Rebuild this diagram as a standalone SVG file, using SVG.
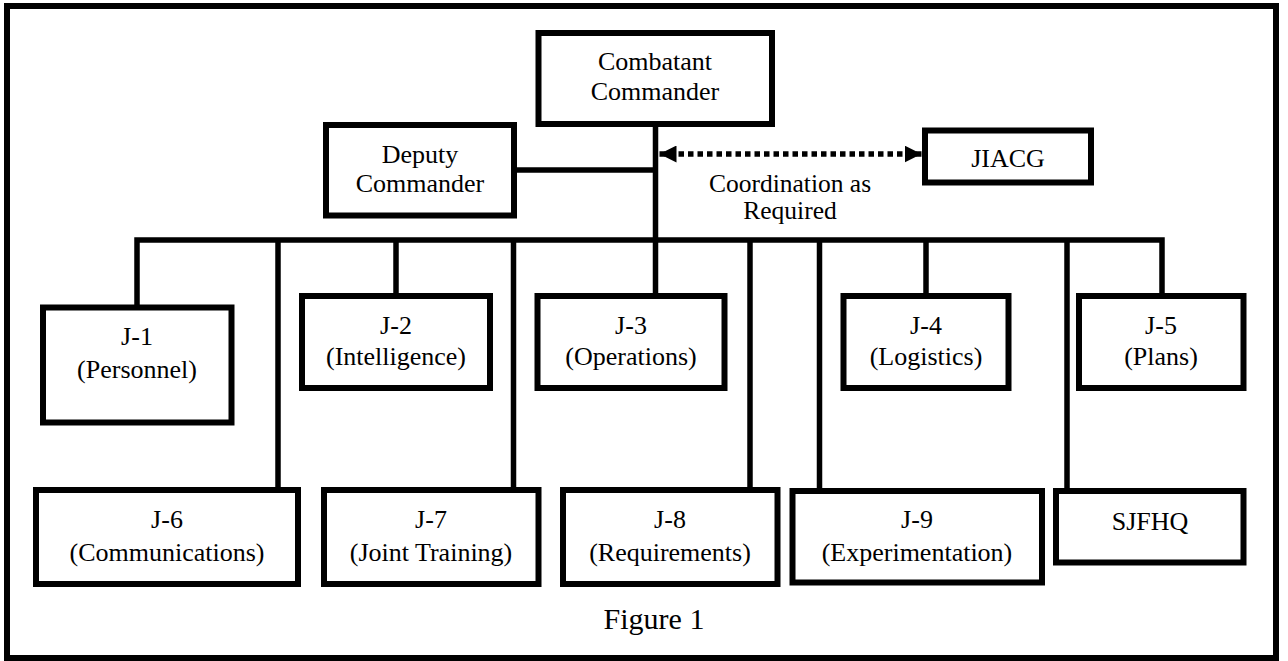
<svg xmlns="http://www.w3.org/2000/svg" width="1288" height="661" viewBox="0 0 1288 661">
<style>
.box{fill:#fff;stroke:#000;stroke-width:6}
.ln{fill:none;stroke:#000;stroke-width:5.5;stroke-linejoin:miter;stroke-linecap:butt}
text{font-family:"Liberation Serif","Times New Roman",serif;font-size:26px;fill:#000;text-anchor:middle}
</style>
<defs>
<marker id="ah" viewBox="0 0 10 10" refX="10" refY="5" markerWidth="17" markerHeight="17" orient="auto-start-reverse" markerUnits="userSpaceOnUse">
<path d="M0,0 L10,5 L0,10 Z" fill="#000"/>
</marker>
</defs>
<rect x="7" y="6" width="1269" height="652" fill="#fff" stroke="#000" stroke-width="6"/>
<g id="connectors">
<path class="ln" d="M655.5,124 V296"/>
<path class="ln" d="M514,170 H655.5"/>
<path class="ln" d="M137,307.5 V240 H1162 V296"/>
<path class="ln" d="M278,240 V490"/>
<path class="ln" d="M396,240 V296"/>
<path class="ln" d="M513.5,240 V490"/>
<path class="ln" d="M750,240 V490"/>
<path class="ln" d="M819.5,240 V491"/>
<path class="ln" d="M926,240 V296"/>
<path class="ln" d="M1067,240 V491"/>
<line x1="659.5" y1="154" x2="921.5" y2="154" stroke="#000" stroke-width="5.5" stroke-dasharray="5.5 4" marker-start="url(#ah)" marker-end="url(#ah)"/>
<text x="790" y="191.5" style="font-size:25.5px">Coordination as</text>
<text x="790" y="218.5" style="font-size:25.5px">Required</text>
</g>
<g id="combatant"><rect class="box" x="538.5" y="33" width="233.5" height="91"/><text x="655" y="70">Combatant</text><text x="655" y="100">Commander</text></g>
<g id="deputy"><rect class="box" x="326" y="125" width="188" height="90.5"/><text x="420" y="162.5">Deputy</text><text x="420" y="191.5">Commander</text></g>
<g id="jiacg"><rect class="box" x="925" y="130.5" width="166" height="52"/><text x="1008" y="166.5">JIACG</text></g>
<g id="j1"><rect class="box" x="43" y="307.5" width="188.5" height="115"/><text x="137" y="345">J-1</text><text x="137" y="378">(Personnel)</text></g>
<g id="j2"><rect class="box" x="302" y="296" width="188" height="92"/><text x="396" y="334">J-2</text><text x="396" y="365">(Intelligence)</text></g>
<g id="j3"><rect class="box" x="537.5" y="296" width="187" height="92"/><text x="631" y="334">J-3</text><text x="631" y="365">(Operations)</text></g>
<g id="j4"><rect class="box" x="843.5" y="296" width="165" height="92"/><text x="926" y="334">J-4</text><text x="926" y="365">(Logistics)</text></g>
<g id="j5"><rect class="box" x="1079" y="296" width="164.5" height="92"/><text x="1161" y="334">J-5</text><text x="1161" y="365">(Plans)</text></g>
<g id="j6"><rect class="box" x="36" y="490" width="262" height="94"/><text x="167" y="528">J-6</text><text x="167" y="560.5">(Communications)</text></g>
<g id="j7"><rect class="box" x="324" y="490" width="214.5" height="94"/><text x="431" y="528">J-7</text><text x="431" y="560.5">(Joint Training)</text></g>
<g id="j8"><rect class="box" x="563" y="490" width="214.5" height="94"/><text x="670" y="528">J-8</text><text x="670" y="560.5">(Requirements)</text></g>
<g id="j9"><rect class="box" x="792.5" y="491" width="249.5" height="91.5"/><text x="917" y="528">J-9</text><text x="917" y="560.5">(Experimentation)</text></g>
<g id="sjfhq"><rect class="box" x="1056" y="491" width="187.5" height="71.5"/><text x="1150" y="530">SJFHQ</text></g>
<text x="654" y="629" style="font-size:30px">Figure 1</text>
</svg>
